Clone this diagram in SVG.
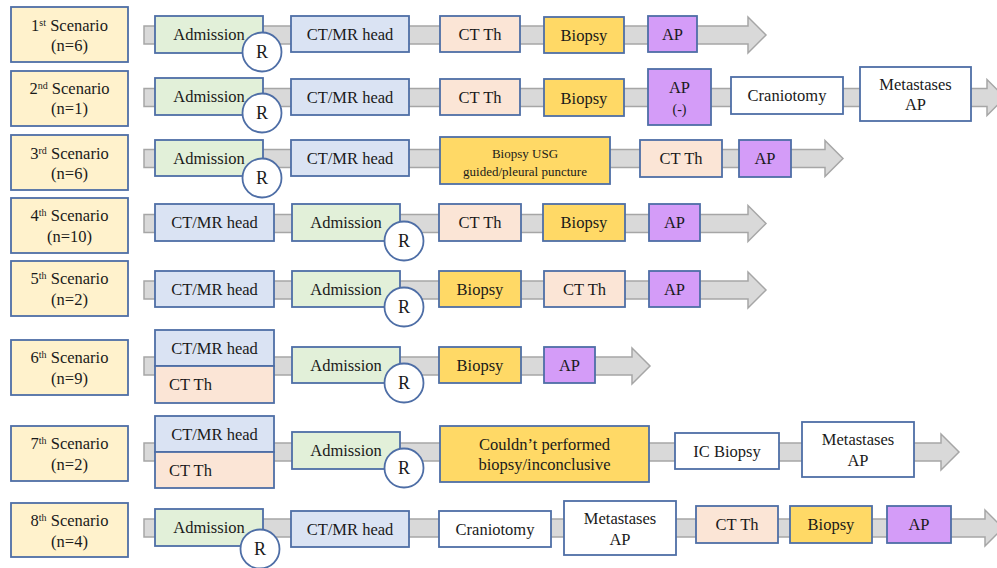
<svg xmlns="http://www.w3.org/2000/svg" width="997" height="568" viewBox="0 0 997 568">
<style>
rect{stroke:#4E6EA6;stroke-width:1.8}
.sc{fill:#FFF2CC}
.adm{fill:#E2F0D9}
.ctmr{fill:#DAE3F3}
.ctth{fill:#FBE5D6}
.bio{fill:#FFD966}
.ap{fill:#D49CF8}
.wh{fill:#FFFFFF}
.r{fill:#FFFFFF;stroke:#4E6EA6;stroke-width:1.8}
.arr{fill:#D9D9D9;stroke:#A6A6A6;stroke-width:1.5}
text{font-family:'Liberation Serif','DejaVu Serif',serif;font-size:16.5px;fill:#1A1A1A;text-anchor:middle}
.s{font-size:13px}
.sup{font-size:10px}
.l{text-anchor:start}
.rt{font-size:18px}
</style>
<rect width="997" height="568" fill="#FFFFFF" style="stroke:none"/>
<g id="connectors">
<polygon class="arr" points="144,26 748,26 748,17 766,35 748,53 748,44 144,44"/>
<polygon class="arr" points="144,88.5 987,88.5 987,79.5 1005,97.5 987,115.5 987,106.5 144,106.5"/>
<polygon class="arr" points="144,149.5 825,149.5 825,140.5 843,158.5 825,176.5 825,167.5 144,167.5"/>
<polygon class="arr" points="144,214.5 748,214.5 748,205.5 766,223.5 748,241.5 748,232.5 144,232.5"/>
<polygon class="arr" points="144,281 748,281 748,272 766,290 748,308 748,299 144,299"/>
<polygon class="arr" points="144,357 632,357 632,348 650,366 632,384 632,375 144,375"/>
<polygon class="arr" points="144,443 941,443 941,434 959,452 941,470 941,461 144,461"/>
<polygon class="arr" points="144,519 985,519 985,510 1003,528 985,546 985,537 144,537"/>
</g>
<!-- Row 1 -->
<g id="sc1"><rect class="sc" x="11" y="7" width="117" height="55"/><text x="69.5" y="31">1<tspan class="sup" dy="-5">st</tspan><tspan dy="5"> Scenario</tspan></text><text x="69.5" y="51">(n=6)</text></g>
<g id="adm1"><rect class="adm" x="155" y="16" width="108" height="37"/><text x="209" y="40">Admission</text></g>
<g id="r1"><circle class="r" cx="262" cy="52" r="19.5"/><text class="rt" x="262" y="58">R</text></g>
<g id="ctmr1"><rect class="ctmr" x="291" y="16" width="118" height="36"/><text x="350" y="40">CT/MR head</text></g>
<g id="ctth1"><rect class="ctth" x="440" y="16" width="80" height="36"/><text x="480" y="40">CT Th</text></g>
<g id="bio1"><rect class="bio" x="544" y="17" width="80" height="36"/><text x="584" y="41">Biopsy</text></g>
<g id="ap1"><rect class="ap" x="648" y="16" width="49" height="36"/><text x="672.5" y="40">AP</text></g>
<!-- Row 2 -->
<g id="sc2"><rect class="sc" x="11" y="71" width="117" height="55"/><text x="69.5" y="94">2<tspan class="sup" dy="-5">nd</tspan><tspan dy="5"> Scenario</tspan></text><text x="69.5" y="114">(n=1)</text></g>
<g id="adm2"><rect class="adm" x="155" y="78" width="108" height="37"/><text x="209" y="102">Admission</text></g>
<g id="r2"><circle class="r" cx="262" cy="113" r="19.5"/><text class="rt" x="262" y="119">R</text></g>
<g id="ctmr2"><rect class="ctmr" x="291" y="79" width="118" height="36"/><text x="350" y="103">CT/MR head</text></g>
<g id="ctth2"><rect class="ctth" x="440" y="79" width="80" height="36"/><text x="480" y="103">CT Th</text></g>
<g id="bio2"><rect class="bio" x="544" y="79" width="80" height="37"/><text x="584" y="104">Biopsy</text></g>
<g id="ap2"><rect class="ap" x="648" y="69" width="63" height="56"/><text x="679.5" y="93">AP</text><text x="679.5" y="114" style="font-size:14px">(-)</text></g>
<g id="cran2"><rect class="wh" x="731" y="77" width="112" height="37"/><text x="787" y="101">Craniotomy</text></g>
<g id="meta2"><rect class="wh" x="860" y="67" width="111" height="54"/><text x="915.5" y="90">Metastases</text><text x="915.5" y="110">AP</text></g>
<!-- Row 3 -->
<g id="sc3"><rect class="sc" x="11" y="135" width="117" height="55"/><text x="69.5" y="159">3<tspan class="sup" dy="-5">rd</tspan><tspan dy="5"> Scenario</tspan></text><text x="69.5" y="179">(n=6)</text></g>
<g id="adm3"><rect class="adm" x="155" y="140" width="108" height="36"/><text x="209" y="164">Admission</text></g>
<g id="r3"><circle class="r" cx="262" cy="178" r="19.5"/><text class="rt" x="262" y="184">R</text></g>
<g id="ctmr3"><rect class="ctmr" x="291" y="140" width="118" height="36"/><text x="350" y="164">CT/MR head</text></g>
<g id="biousg3"><rect class="bio" x="440" y="137" width="170" height="47"/><text class="s" x="525" y="158">Biopsy USG</text><text class="s" x="525" y="176">guided/pleural puncture</text></g>
<g id="ctth3"><rect class="ctth" x="640" y="140" width="82" height="37"/><text x="681" y="164">CT Th</text></g>
<g id="ap3"><rect class="ap" x="739" y="140" width="52" height="37"/><text x="765" y="164">AP</text></g>
<!-- Row 4 -->
<g id="sc4"><rect class="sc" x="11" y="198" width="117" height="55"/><text x="69.5" y="221">4<tspan class="sup" dy="-5">th</tspan><tspan dy="5"> Scenario</tspan></text><text x="69.5" y="242">(n=10)</text></g>
<g id="ctmr4"><rect class="ctmr" x="155" y="204" width="119" height="37"/><text x="214.5" y="228">CT/MR head</text></g>
<g id="adm4"><rect class="adm" x="292" y="204" width="108" height="37"/><text x="346" y="228">Admission</text></g>
<g id="r4"><circle class="r" cx="404" cy="241" r="19.5"/><text class="rt" x="404" y="247">R</text></g>
<g id="ctth4"><rect class="ctth" x="439" y="204" width="82" height="37"/><text x="480" y="228">CT Th</text></g>
<g id="bio4"><rect class="bio" x="543" y="204" width="82" height="37"/><text x="584" y="228">Biopsy</text></g>
<g id="ap4"><rect class="ap" x="649" y="204" width="51" height="37"/><text x="674.5" y="228">AP</text></g>
<!-- Row 5 -->
<g id="sc5"><rect class="sc" x="11" y="261" width="117" height="55"/><text x="69.5" y="284">5<tspan class="sup" dy="-5">th</tspan><tspan dy="5"> Scenario</tspan></text><text x="69.5" y="305">(n=2)</text></g>
<g id="ctmr5"><rect class="ctmr" x="155" y="271" width="119" height="36"/><text x="214.5" y="295">CT/MR head</text></g>
<g id="adm5"><rect class="adm" x="292" y="271" width="108" height="36"/><text x="346" y="295">Admission</text></g>
<g id="r5"><circle class="r" cx="404" cy="307" r="19.5"/><text class="rt" x="404" y="313">R</text></g>
<g id="bio5"><rect class="bio" x="439" y="271" width="82" height="36"/><text x="480" y="295">Biopsy</text></g>
<g id="ctth5"><rect class="ctth" x="544" y="271" width="81" height="36"/><text x="584.5" y="295">CT Th</text></g>
<g id="ap5"><rect class="ap" x="649" y="271" width="51" height="36"/><text x="674.5" y="295">AP</text></g>
<!-- Row 6 -->
<g id="sc6"><rect class="sc" x="11" y="340" width="117" height="55"/><text x="69.5" y="363">6<tspan class="sup" dy="-5">th</tspan><tspan dy="5"> Scenario</tspan></text><text x="69.5" y="384">(n=9)</text></g>
<g id="ctmr6"><rect class="ctmr" x="155" y="330" width="119" height="36"/><text x="214.5" y="354">CT/MR head</text></g>
<g id="ctth6"><rect class="ctth" x="155" y="366" width="119" height="37"/><text class="l" x="169" y="390">CT Th</text></g>
<g id="adm6"><rect class="adm" x="292" y="347" width="108" height="36"/><text x="346" y="371">Admission</text></g>
<g id="r6"><circle class="r" cx="404" cy="383" r="19.5"/><text class="rt" x="404" y="389">R</text></g>
<g id="bio6"><rect class="bio" x="439" y="347" width="82" height="36"/><text x="480" y="371">Biopsy</text></g>
<g id="ap6"><rect class="ap" x="544" y="347" width="51" height="36"/><text x="569.5" y="371">AP</text></g>
<!-- Row 7 -->
<g id="sc7"><rect class="sc" x="11" y="426" width="117" height="55"/><text x="69.5" y="449">7<tspan class="sup" dy="-5">th</tspan><tspan dy="5"> Scenario</tspan></text><text x="69.5" y="470">(n=2)</text></g>
<g id="ctmr7"><rect class="ctmr" x="155" y="416" width="119" height="36"/><text x="214.5" y="440">CT/MR head</text></g>
<g id="ctth7"><rect class="ctth" x="155" y="452" width="119" height="36"/><text class="l" x="169" y="476">CT Th</text></g>
<g id="adm7"><rect class="adm" x="292" y="432" width="108" height="37"/><text x="346" y="456">Admission</text></g>
<g id="r7"><circle class="r" cx="404" cy="468" r="19.5"/><text class="rt" x="404" y="474">R</text></g>
<g id="couldnt7"><rect class="bio" x="440" y="426" width="209" height="56"/><text x="544.5" y="450">Couldn’t performed</text><text x="544.5" y="470">biopsy/inconclusive</text></g>
<g id="icb7"><rect class="wh" x="675" y="433" width="104" height="36"/><text x="727" y="457">IC Biopsy</text></g>
<g id="meta7"><rect class="wh" x="802" y="422" width="112" height="55"/><text x="858" y="445">Metastases</text><text x="858" y="466">AP</text></g>
<!-- Row 8 -->
<g id="sc8"><rect class="sc" x="11" y="503" width="117" height="54"/><text x="69.5" y="526">8<tspan class="sup" dy="-5">th</tspan><tspan dy="5"> Scenario</tspan></text><text x="69.5" y="547">(n=4)</text></g>
<g id="adm8"><rect class="adm" x="155" y="509" width="108" height="37"/><text x="209" y="533">Admission</text></g>
<g id="r8"><circle class="r" cx="260" cy="549" r="19.5"/><text class="rt" x="260" y="555">R</text></g>
<g id="ctmr8"><rect class="ctmr" x="291" y="511" width="118" height="36"/><text x="350" y="535">CT/MR head</text></g>
<g id="cran8"><rect class="wh" x="439" y="511" width="112" height="36"/><text x="495" y="535">Craniotomy</text></g>
<g id="meta8"><rect class="wh" x="564" y="501" width="112" height="54"/><text x="620" y="524">Metastases</text><text x="620" y="545">AP</text></g>
<g id="ctth8"><rect class="ctth" x="696" y="506" width="82" height="37"/><text x="737" y="530">CT Th</text></g>
<g id="bio8"><rect class="bio" x="790" y="506" width="82" height="37"/><text x="831" y="530">Biopsy</text></g>
<g id="ap8"><rect class="ap" x="887" y="506" width="64" height="37"/><text x="919" y="530">AP</text></g>
</svg>
